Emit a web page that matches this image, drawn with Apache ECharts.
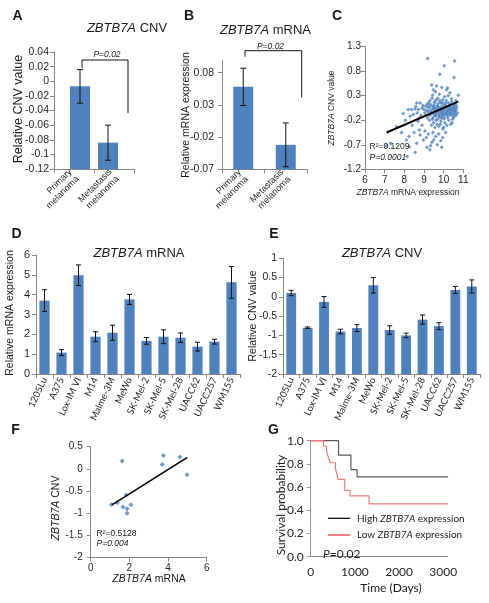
<!DOCTYPE html>
<html><head><meta charset="utf-8">
<script src="https://cdn.jsdelivr.net/npm/echarts@6/dist/echarts.min.js"></script>
<style>html,body{margin:0;padding:0;background:#fff}#c{width:489px;height:603px}</style>
</head><body><div id="c"></div>
<script>
// ---- Panel A / B ----
const catsAB = ['Primary\nmelanoma', 'Metastasis\nmelanoma'];
const cnvA = [-0.007, -0.084];
const cnvAErr = [0.023, 0.024];
const mrnaB = [0.058, -0.032];
const mrnaBErr = [0.029, 0.034];
// ---- Panel C ----
const scatterC = [
[9.19,1.06],[10.56,1.01],[10.03,0.91],[9.81,0.74],[10.53,0.67],[9.39,0.52],[9.64,0.50],[9.90,0.47],[10.20,0.46],[9.47,0.42],[10.15,0.42],[9.44,0.31],[9.78,0.33],[10.75,0.31],[10.32,0.36],[9.58,0.38],[10.05,0.28],[9.95,0.22],[9.70,0.25],[10.40,0.24],[9.30,0.20],[9.55,0.18],[10.62,0.20],[9.85,0.15],[10.25,0.15],[9.15,0.12],[10.48,0.12],
[8.63,0.15],[8.80,0.15],[8.20,0.02],[8.37,0.02],[7.95,-0.06],[8.55,0.03],[8.72,0.02],[8.90,0.05],[8.45,-0.08],[8.65,-0.05],[8.85,-0.10],[9.00,0.02],[9.05,-0.05],[8.95,0.10],[9.10,0.08],
[9.20,-0.02],[9.25,0.05],[9.30,-0.10],[9.35,0.00],[9.40,-0.05],[9.42,0.08],[9.45,-0.15],[9.50,0.02],[9.52,-0.08],[9.55,0.06],[9.58,-0.02],[9.60,-0.12],[9.62,0.04],[9.65,-0.05],[9.68,0.10],[9.70,-0.18],[9.72,0.00],[9.75,-0.08],[9.78,0.05],[9.80,-0.03],[9.82,-0.14],[9.85,0.02],[9.88,-0.06],[9.90,0.08],[9.92,-0.10],[9.95,0.00],[9.97,-0.04],[10.00,0.05],[10.02,-0.12],[10.05,0.02],[10.08,-0.06],[10.10,0.10],[10.12,-0.02],[10.15,-0.08],[10.18,0.04],[10.20,-0.15],[10.22,0.00],[10.25,0.07],[10.28,-0.05],[10.30,0.02],[10.32,-0.10],[10.35,0.05],[10.38,-0.02],[10.40,0.00],[10.42,-0.07],[10.45,0.04],[10.48,-0.12],[10.50,0.02],[10.52,-0.04],[10.55,0.06],[10.58,-0.02],[10.60,0.00],[10.65,0.03],[10.70,-0.05],[9.28,-0.20],[9.48,-0.25],[9.66,-0.28],[9.86,-0.22],[10.06,-0.25],[10.26,-0.20],[9.38,-0.30],[9.76,-0.32],[10.16,-0.30],[9.56,-0.35],[9.96,-0.38],[10.36,-0.28],[9.18,-0.15],[10.44,-0.18],
[9.33,0.12],[9.53,0.15],[9.73,0.14],[9.93,0.16],[10.13,0.20],[10.33,0.12],[10.53,0.10],[9.63,0.22],[10.23,0.30],[9.43,-0.18],[9.83,-0.28],[10.03,-0.17],[10.43,-0.25],[10.63,-0.10],[9.13,0.00],[9.23,0.15],[8.78,-0.15],[8.58,0.08],
[9.36,-0.04],[9.46,0.04],[9.57,-0.10],[9.67,-0.01],[9.77,-0.12],[9.87,-0.02],[9.98,-0.09],[10.07,0.06],[10.17,-0.04],[10.27,0.01],[10.37,-0.06],[10.47,0.07],[10.57,-0.08],[10.67,0.08],[9.26,0.08],[9.61,-0.20],[9.91,-0.16],[10.21,-0.10],[10.51,-0.15],[9.71,0.07],[10.01,0.12],[10.31,0.09],[9.51,0.10],[9.81,0.20],[10.11,0.15],[10.41,0.18],[9.41,0.25],[10.61,0.12],
[7.60,-0.33],[7.86,-0.45],[7.30,-0.67],[7.10,-0.72],[8.24,-0.53],[8.50,-0.45],[8.76,-0.40],[8.97,-0.60],[8.63,-0.67],[8.25,-0.74],[9.34,-0.72],[9.60,-0.53],[9.68,-0.70],[8.15,-0.94],[9.30,-0.80],[8.40,-0.30],[8.70,-0.22],[8.90,-0.30],[9.05,-0.42],[9.12,-0.55],[9.22,-0.48],[9.45,-0.45],[9.50,-0.60],[9.75,-0.48],[9.85,-0.62],[9.95,-0.55],[10.10,-0.45],[8.05,-0.20],[8.30,-0.12],[8.80,-0.50],[9.40,-0.65],[8.55,-0.85],[9.15,-0.75],[9.90,-0.75],[10.00,-0.35],[8.10,-0.60]
];
const fitC = [[7.1, -0.45], [10.74, 0.18]];
// ---- Panel D / E ----
const cellLines = ['1205Lu','A375','Lox-IM VI','M14','Malme-3M','MeWo','SK-Mel-2','SK-Mel-5','SK-Mel-28','UACC62','UACC257','WM155'];
const mrnaD = [3.70, 1.08, 4.98, 1.88, 2.08, 3.76, 1.67, 1.88, 1.83, 1.38, 1.63, 4.62];
const mrnaDErr = [0.55, 0.15, 0.52, 0.25, 0.38, 0.25, 0.17, 0.35, 0.24, 0.22, 0.12, 0.80];
const cnvE = [0.10, -0.80, -0.13, -0.90, -0.81, 0.30, -0.86, -1.00, -0.59, -0.76, 0.18, 0.27];
const cnvEErr = [0.07, 0.02, 0.14, 0.06, 0.09, 0.20, 0.11, 0.06, 0.12, 0.09, 0.09, 0.17];
// ---- Panel F ----
const fitF = [[1.1, -0.81], [5.0, 0.26]];
// ---- Panel G ----
const highG = [[0,1],[630,0.875],[910,0.75],[1050,0.6875],[3110,0.6875]];
const lowG = [[0,1],[290,0.952],[360,0.905],[400,0.857],[440,0.81],[560,0.762],[590,0.714],[620,0.667],[770,0.571],[890,0.524],[1320,0.455],[3110,0.455]];

const AR = 'Liberation Sans', CAL = 'Lato';
const BLUE = '#4f81bd', AXC = '#868686', LBC = '#262626';

function axis(o) {
  const base = {
    axisLine: {show: true, onZero: false, lineStyle: {color: AXC, width: 1}},
    axisTick: {show: true, length: 4, lineStyle: {color: AXC}},
    splitLine: {show: false},
    axisLabel: {color: LBC, fontFamily: AR, fontSize: 10}
  };
  for (const k in o) {
    if (base[k] && typeof o[k] === 'object' && !Array.isArray(o[k])) base[k] = Object.assign({}, base[k], o[k]);
    else base[k] = o[k];
  }
  return base;
}
function barRender(yMin, frac, capW, shifts) {
  return function (params, api) {
    const i = api.value(0), v = api.value(1), e = api.value(2);
    const top = api.coord([i, v]);
    const base = api.coord([i, yMin]);
    const hi = api.coord([i, v + e]);
    const lo = api.coord([i, v - e]);
    const cw = api.size([1, 0])[0];
    const w = cw * frac;
    const x = top[0] + (shifts ? shifts[params.dataIndex] * cw : 0);
    const ls = {stroke: '#111', lineWidth: 1};
    return {type: 'group', children: [
      {type: 'rect', shape: {x: x - w / 2, y: top[1], width: w, height: base[1] - top[1]}, style: {fill: BLUE}},
      {type: 'line', shape: {x1: x, y1: hi[1], x2: x, y2: lo[1]}, style: ls},
      {type: 'line', shape: {x1: x - capW / 2, y1: hi[1], x2: x + capW / 2, y2: hi[1]}, style: ls},
      {type: 'line', shape: {x1: x - capW / 2, y1: lo[1], x2: x + capW / 2, y2: lo[1]}, style: ls}
    ]};
  };
}
function T(x, y, text, o) {
  o = o || {};
  const st = {text: text, x: 0, y: 0, fill: o.fill || '#1a1a1a', fontFamily: o.ff || AR, fontSize: o.fs || 12,
    fontWeight: o.fw || 'normal', fontStyle: o.it ? 'italic' : 'normal', align: o.al || 'center', verticalAlign: 'middle'};
  if (o.rich) {
    st.rich = {i: {fontStyle: 'italic', fontFamily: o.ff || AR, fontSize: o.fs || 12, fill: o.fill || '#1a1a1a'},
               n: {fontStyle: 'normal', fontFamily: o.ff || AR, fontSize: o.fs || 12, fill: o.fill || '#1a1a1a'}};
  }
  return {type: 'text', x: x, y: y, rotation: o.rot ? Math.PI / 2 : 0, style: st, z: 100};
}
function L(x1, y1, x2, y2, c, w) {
  return {type: 'line', shape: {x1: x1, y1: y1, x2: x2, y2: y2}, style: {stroke: c || '#111', lineWidth: w || 1}, z: 100};
}
const f2 = v => String(+v.toFixed(2));

const option = {
  animation: false,
  grid: [
    {left: 54, top: 52, width: 80, height: 117},
    {left: 222, top: 59.8, width: 85, height: 109.5},
    {left: 365, top: 46.7, width: 98.3, height: 122.6},
    {left: 36, top: 255, width: 204, height: 119},
    {left: 283, top: 258.3, width: 197, height: 115.7},
    {left: 90.7, top: 446.7, width: 116, height: 111},
    {left: 310.7, top: 440.7, width: 137, height: 116}
  ].map(g => Object.assign({containLabel: false, outerBoundsMode: 'none'}, g)),
  xAxis: [
    axis({type: 'category', gridIndex: 0, data: catsAB, axisLabel: {rotate: 45, fontSize: 9, interval: 0, margin: 5, lineHeight: 10}}),
    axis({type: 'category', gridIndex: 1, data: catsAB, axisLabel: {rotate: 45, fontSize: 9, interval: 0, margin: 5, lineHeight: 10}}),
    axis({type: 'value', gridIndex: 2, min: 6, max: 11, interval: 1, axisLabel: {fontSize: 10, margin: 6}}),
    axis({type: 'category', gridIndex: 3, data: cellLines, axisLabel: {rotate: 65, fontSize: 9.5, fontFamily: CAL, interval: 0, margin: 4}}),
    axis({type: 'category', gridIndex: 4, data: cellLines, axisLabel: {rotate: 65, fontSize: 9.5, fontFamily: CAL, interval: 0, margin: 4}}),
    axis({type: 'value', gridIndex: 5, min: 0, max: 6, interval: 2, axisLabel: {fontSize: 10, margin: 6}}),
    axis({type: 'value', gridIndex: 6, min: 0, max: 3100, interval: 1000, axisTick: {show: false},
      axisLabel: {fontFamily: CAL, fontSize: 12, margin: 9, showMaxLabel: false, formatter: v => String(v)}})
  ],
  yAxis: [
    axis({type: 'value', gridIndex: 0, min: -0.12, max: 0.04, interval: 0.02, axisLabel: {formatter: f2, fontSize: 10.5, margin: 5}}),
    axis({type: 'value', gridIndex: 1, min: -0.07, max: 0.1, interval: 0.05, axisLabel: {formatter: f2, fontSize: 10.5, margin: 8, showMaxLabel: false}}),
    axis({type: 'value', gridIndex: 2, min: -1.2, max: 1.3, interval: 0.5, axisLabel: {formatter: v => String(+v.toFixed(1)), fontSize: 10, margin: 4}}),
    axis({type: 'value', gridIndex: 3, min: 0, max: 6, interval: 1, axisLabel: {fontSize: 11, margin: 6}}),
    axis({type: 'value', gridIndex: 4, min: -2, max: 1, interval: 0.5, axisLabel: {formatter: v => String(+v.toFixed(1)), fontSize: 10.5, margin: 6}}),
    axis({type: 'value', gridIndex: 5, min: -2, max: 0.5, interval: 0.5, axisLabel: {formatter: v => String(+v.toFixed(1)), fontSize: 10, margin: 8}}),
    axis({type: 'value', gridIndex: 6, min: 0, max: 1, interval: 0.2, axisLine: {lineStyle: {color: '#999'}},
      axisTick: {show: true, length: 4, lineStyle: {color: '#999'}},
      axisLabel: {formatter: v => v.toFixed(1), fontFamily: CAL, fontSize: 12, margin: 7}})
  ],
  series: [
    {type: 'custom', xAxisIndex: 0, yAxisIndex: 0, renderItem: barRender(-0.12, 0.5, 6, [0.15, -0.15]), encode: {x: 0, y: 1},
      data: cnvA.map((v, i) => [i, v, cnvAErr[i]])},
    {type: 'custom', xAxisIndex: 1, yAxisIndex: 1, renderItem: barRender(-0.07, 0.47, 6), encode: {x: 0, y: 1},
      data: mrnaB.map((v, i) => [i, v, mrnaBErr[i]])},
    {type: 'scatter', xAxisIndex: 2, yAxisIndex: 2, symbol: 'diamond', symbolSize: 4, itemStyle: {color: BLUE}, data: scatterC},
    {type: 'line', xAxisIndex: 2, yAxisIndex: 2, data: fitC, showSymbol: false, lineStyle: {color: '#000', width: 2}},
    {type: 'custom', xAxisIndex: 3, yAxisIndex: 3, renderItem: barRender(0, 0.6, 5), encode: {x: 0, y: 1},
      data: mrnaD.map((v, i) => [i, v, mrnaDErr[i]])},
    {type: 'custom', xAxisIndex: 4, yAxisIndex: 4, renderItem: barRender(-2, 0.6, 5), encode: {x: 0, y: 1},
      data: cnvE.map((v, i) => [i, v, cnvEErr[i]])},
    {type: 'scatter', xAxisIndex: 5, yAxisIndex: 5, symbol: 'diamond', symbolSize: 5, itemStyle: {color: BLUE},
      data: mrnaD.map((v, i) => [v, cnvE[i]])},
    {type: 'line', xAxisIndex: 5, yAxisIndex: 5, data: fitF, showSymbol: false, lineStyle: {color: '#000', width: 1.6}},
    {type: 'line', xAxisIndex: 6, yAxisIndex: 6, step: 'end', data: highG, showSymbol: false, lineStyle: {color: '#5a5a5a', width: 1.2}},
    {type: 'line', xAxisIndex: 6, yAxisIndex: 6, step: 'end', data: lowG, showSymbol: false, lineStyle: {color: '#f07a7a', width: 1.2}}
  ],
  graphic: [
    T(17.5, 16.5, 'A', {fs: 14, fw: 'bold'}),
    T(189, 16.5, 'B', {fs: 14, fw: 'bold'}),
    T(337, 16.5, 'C', {fs: 14, fw: 'bold'}),
    T(16.5, 234, 'D', {fs: 14, fw: 'bold'}),
    T(274, 234, 'E', {fs: 14, fw: 'bold'}),
    T(15.5, 430, 'F', {fs: 14, fw: 'bold'}),
    T(273.5, 430.5, 'G', {fs: 14, fw: 'bold'}),
    T(127, 28, '{i|ZBTB7A}{n| CNV}', {fs: 13, rich: true}),
    T(265.5, 30, '{i|ZBTB7A}{n| mRNA}', {fs: 13, rich: true}),
    T(139, 253, '{i|ZBTB7A}{n| mRNA}', {fs: 13, rich: true}),
    T(382, 253, '{i|ZBTB7A}{n| CNV}', {fs: 13, rich: true}),
    T(18.5, 109, 'Relative CNV value', {fs: 12.5, rot: true}),
    T(186, 115, 'Relative mRNA expression', {fs: 10.5, rot: true}),
    T(331.5, 108, '{i|ZBTB7A}{n| CNV value}', {fs: 8.5, rot: true, rich: true}),
    T(408, 193, '{i|ZBTB7A}{n| mRNA expression}', {fs: 8.5, rich: true}),
    T(10.5, 313, 'Relative mRNA expression', {fs: 10.5, rot: true}),
    T(253, 316, 'Relative CNV value', {fs: 10.5, rot: true}),
    T(56, 508, '{i|ZBTB7A}{n| CNV}', {fs: 10.5, rot: true, rich: true}),
    T(149, 579.5, '{i|ZBTB7A}{n| mRNA}', {fs: 10.5, rich: true}),
    T(281.5, 505, 'Survival probability', {fs: 12, rot: true, ff: CAL}),
    T(391, 588, 'Time (Days)', {fs: 12, ff: CAL}),
    L(82, 60, 128, 60), L(82, 60, 82, 68), L(128, 60, 128, 113),
    T(107, 55, 'P=0.02', {fs: 8.5, it: true}),
    L(245, 50.7, 301.7, 50.7), L(245, 50.7, 245, 56.7), L(301.7, 50.7, 301.7, 97.3),
    T(270.5, 46.5, 'P=0.02', {fs: 8.5, it: true}),
    T(369.5, 146.7, 'R²=0.1209', {fs: 8.5, al: 'left'}),
    T(369.5, 157.5, 'P=0.0001', {fs: 8.5, al: 'left', it: true}),
    T(96.5, 533.5, 'R²=0.5128', {fs: 8.5, al: 'left'}),
    T(96.5, 543.5, 'P=0.004', {fs: 8.5, al: 'left', it: true}),
    L(328, 518.3, 350, 518.3, '#000', 1.2),
    L(328, 535, 350, 535, '#e8302a', 1.2),
    T(357, 518.3, '{n|High }{i|ZBTB7A}{n| expression}', {fs: 10, ff: CAL, al: 'left', rich: true}),
    T(357, 535, '{n|Low }{i|ZBTB7A}{n| expression}', {fs: 10, ff: CAL, al: 'left', rich: true}),
    T(323, 554, '{i|P}{n|=0.02}', {fs: 12, ff: CAL, al: 'left', rich: true})
  ]
};
const chart = echarts.init(document.getElementById('c'), null, {renderer: 'canvas'});
chart.setOption(option);
</script>
</body></html>
